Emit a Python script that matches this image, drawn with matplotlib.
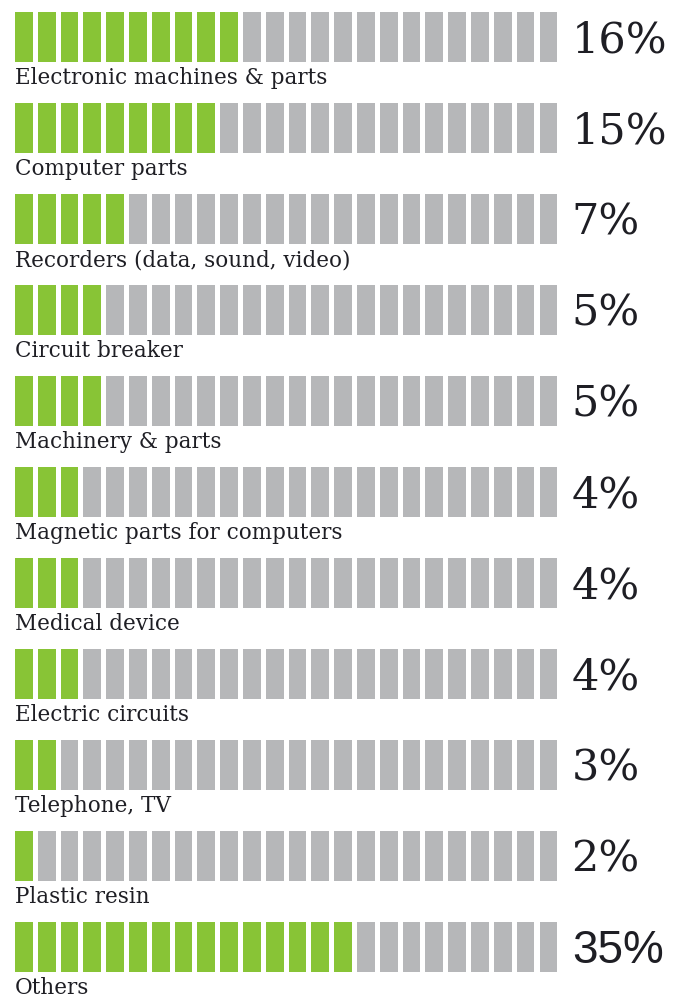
import numpy as np
import matplotlib
matplotlib.use('Agg')
import matplotlib.pyplot as plt

categories = ['Electronic machines & parts', 'Computer parts',
              'Recorders (data, sound, video)', 'Circuit breaker',
              'Machinery & parts', 'Magnetic parts for computers',
              'Medical device', 'Electric circuits', 'Telephone, TV',
              'Plastic resin', 'Others']
shares = [16, 15, 7, 5, 5, 4, 4, 4, 3, 2, 35]
green_blocks = [10, 9, 5, 4, 4, 3, 3, 3, 2, 1, 15]
n_blocks = 24

GREEN = '#88c436'
GREY = '#b6b7b9'
INK = '#1e1e24'

fig = plt.figure(figsize=(6.9, 10.01), dpi=100)
ax = fig.add_axes([0, 0, 1, 1])

# one unit on x = one block pitch, one unit on y = one row
ax.set_xlim(-0.66, 29.6)
ax.set_ylim(10.59, -0.41)
ax.axis('off')

bar_h = 0.55
for r, (name, pct, g) in enumerate(zip(categories, shares, green_blocks)):
    idx = np.arange(n_blocks)
    colors = [GREEN if i < g else GREY for i in idx]
    ax.bar(idx, bar_h, bottom=r - bar_h / 2, width=0.78, align='edge',
           color=colors, linewidth=0)
    ax.text(0, r + 0.45, name, fontsize=15.5, family='DejaVu Serif',
            color=INK, va='center', ha='left')
    if name == 'Others':
        ax.text(24.45, r + 0.04, f'{pct}%', fontsize=33,
                family='Liberation Sans', color=INK, va='center', ha='left')
    else:
        ax.text(24.4, r + 0.04, f'{pct}%', fontsize=31,
                family='DejaVu Serif', color=INK, va='center', ha='left')

fig.savefig('out.png', dpi=100)
